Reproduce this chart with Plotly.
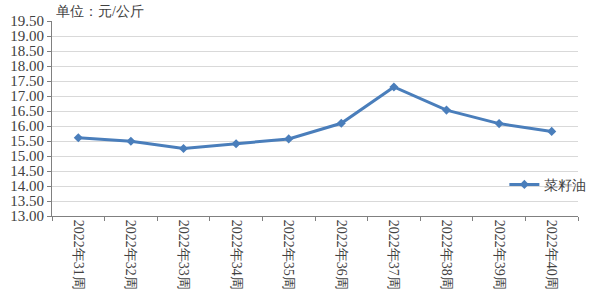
import plotly.graph_objects as go

weeks = ["2022年31周", "2022年32周", "2022年33周", "2022年34周", "2022年35周",
         "2022年36周", "2022年37周", "2022年38周", "2022年39周", "2022年40周"]
prices = [15.61, 15.49, 15.25, 15.41, 15.57, 16.09, 17.30, 16.53, 16.08, 15.82]
series_name = "菜籽油"
unit_label = "单位：元/公斤"
y_ticks = [13 + 0.5 * i for i in range(14)]

font_fam = "Liberation Serif"

fig = go.Figure()
fig.add_trace(go.Scatter(
    x=weeks, y=prices, mode="lines+markers", name=series_name,
    line=dict(color="#4a7ebb", width=3),
    marker=dict(symbol="diamond", size=7, color="#4a7ebb"),
))

fig.update_layout(
    width=600, height=300,
    margin=dict(l=52, r=9, t=21, b=84),
    paper_bgcolor="white", plot_bgcolor="white",
    font=dict(family=font_fam, color="#404040", size=14),
    showlegend=True,
    legend=dict(x=0.86, y=0.16, xanchor="left", yanchor="middle",
                bgcolor="rgba(0,0,0,0)", font=dict(size=14, color="#404040", family=font_fam)),
    annotations=[dict(text=unit_label, xref="paper", yref="paper", x=0.0, y=1.0,
                      xanchor="left", yanchor="bottom", showarrow=False,
                      font=dict(size=14, color="#404040", family=font_fam), xshift=2)],
)
fig.update_yaxes(
    range=[13, 19.5], tickvals=y_ticks, tickformat=".2f",
    showgrid=True, gridcolor="#d9d9d9", gridwidth=1,
    showline=True, linecolor="#808080", linewidth=1,
    ticks="outside", ticklen=4, tickcolor="#808080",
    tickfont=dict(size=15, color="#404040", family=font_fam), zeroline=False,
)
fig.update_xaxes(
    showgrid=False, showline=True, linecolor="#808080", linewidth=1,
    ticks="outside", ticklen=4, tickcolor="#808080", tickson="boundaries",
    tickangle=90, tickfont=dict(size=14, color="#404040", family=font_fam),
    range=[-0.5, 9.5],
)

fig.write_html("out.html")
